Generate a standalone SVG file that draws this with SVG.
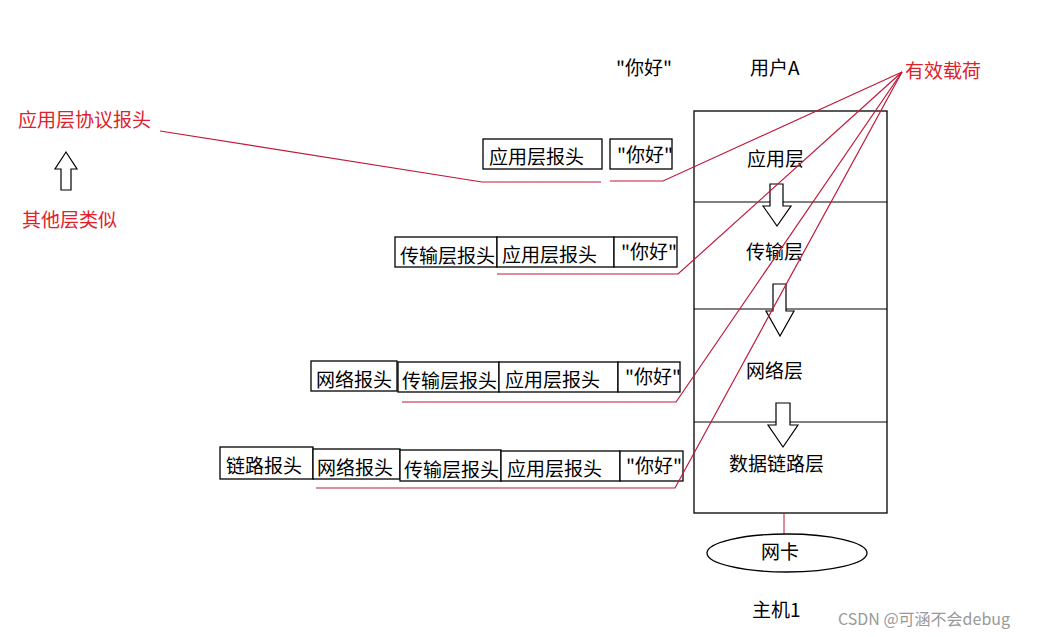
<svg xmlns="http://www.w3.org/2000/svg" width="1049" height="637" viewBox="0 0 1049 637">
<style>
text{font-family:"Noto Sans CJK SC","Liberation Sans",sans-serif;font-size:19px;fill:#000}
.r{fill:#e0202a}
.b{fill:#fff;stroke:#000;stroke-width:1.3}
.ln{stroke:#c0183a;stroke-width:1.2;fill:none}
.ar{fill:#fff;stroke:#000;stroke-width:1.2}
</style>
<rect width="1049" height="637" fill="#fff"/>
<g id="labels">
<text x="616" y="75">"你好"</text>
<text x="750" y="75">用户A</text>
<text class="r" x="905" y="78">有效载荷</text>
<text class="r" x="18" y="127">应用层协议报头</text>
<text class="r" x="22" y="227">其他层类似</text>
<text x="752" y="617">主机1</text>
<text x="838" y="625" style="font-size:16px;fill:#999">CSDN @可涵不会debug</text>
</g>
<g id="stack">
<rect class="b" x="694" y="111" width="193" height="402"/>
<line x1="694" y1="202" x2="887" y2="202" stroke="#000"/>
<line x1="694" y1="309" x2="887" y2="309" stroke="#000"/>
<line x1="694" y1="422" x2="887" y2="422" stroke="#000"/>
<text x="747" y="166">应用层</text>
<text x="746" y="259">传输层</text>
<text x="746" y="378">网络层</text>
<text x="729" y="471">数据链路层</text>
</g>
<g id="arrows">
<path class="ar" d="M770,184h13v22h8l-14,20l-14,-20h7z"/>
<path class="ar" d="M773,284h13v27h8l-14,25l-14,-25h7z"/>
<path class="ar" d="M776,403h14v22h8l-15,22l-15,-22h8z"/>
<path class="ar" d="M66,152l11,17h-6v21h-10v-21h-6z" stroke="#e0202a"/>
</g>
<g id="nic">
<line x1="784" y1="513" x2="784" y2="534" stroke="#c0183a"/>
<ellipse class="b" cx="787" cy="553" rx="80" ry="19"/>
<text x="761" y="559">网卡</text>
</g>
<g id="row1">
<rect class="b" x="483" y="139" width="119" height="30"/><text x="489" y="164">应用层报头</text>
<rect class="b" x="610" y="139" width="62" height="30"/><text x="617" y="162">"你好"</text>
</g>
<g id="row2">
<rect class="b" x="395" y="237" width="102" height="30"/><text x="400" y="263">传输层报头</text>
<rect class="b" x="497" y="237" width="117" height="30"/><text x="502" y="262">应用层报头</text>
<rect class="b" x="614" y="237" width="63" height="30"/><text x="621" y="259">"你好"</text>
</g>
<g id="row3">
<rect class="b" x="311" y="361" width="86" height="30"/><text x="316" y="387">网络报头</text>
<rect class="b" x="398" y="362" width="101" height="30"/><text x="402" y="388">传输层报头</text>
<rect class="b" x="499" y="362" width="119" height="30"/><text x="505" y="387">应用层报头</text>
<rect class="b" x="618" y="362" width="62" height="30"/><text x="625" y="384">"你好"</text>
</g>
<g id="row4">
<rect class="b" x="220" y="447" width="93" height="32"/><text x="226" y="473">链路报头</text>
<rect class="b" x="313" y="449" width="87" height="30"/><text x="317" y="475">网络报头</text>
<rect class="b" x="400" y="450" width="101" height="31"/><text x="404" y="477">传输层报头</text>
<rect class="b" x="501" y="451" width="119" height="30"/><text x="507" y="476">应用层报头</text>
<rect class="b" x="620" y="451" width="63" height="30"/><text x="626" y="473">"你好"</text>
</g>
<g id="connectors">
<polyline class="ln" points="160,131 482,182 601,182"/>
<polyline class="ln" points="610,181 663,181 902,72"/>
<polyline class="ln" points="497,274 678,274 902,72"/>
<polyline class="ln" points="402,402 676,402 902,72"/>
<polyline class="ln" points="316,488 675,488 902,72"/>
</g>
</svg>
